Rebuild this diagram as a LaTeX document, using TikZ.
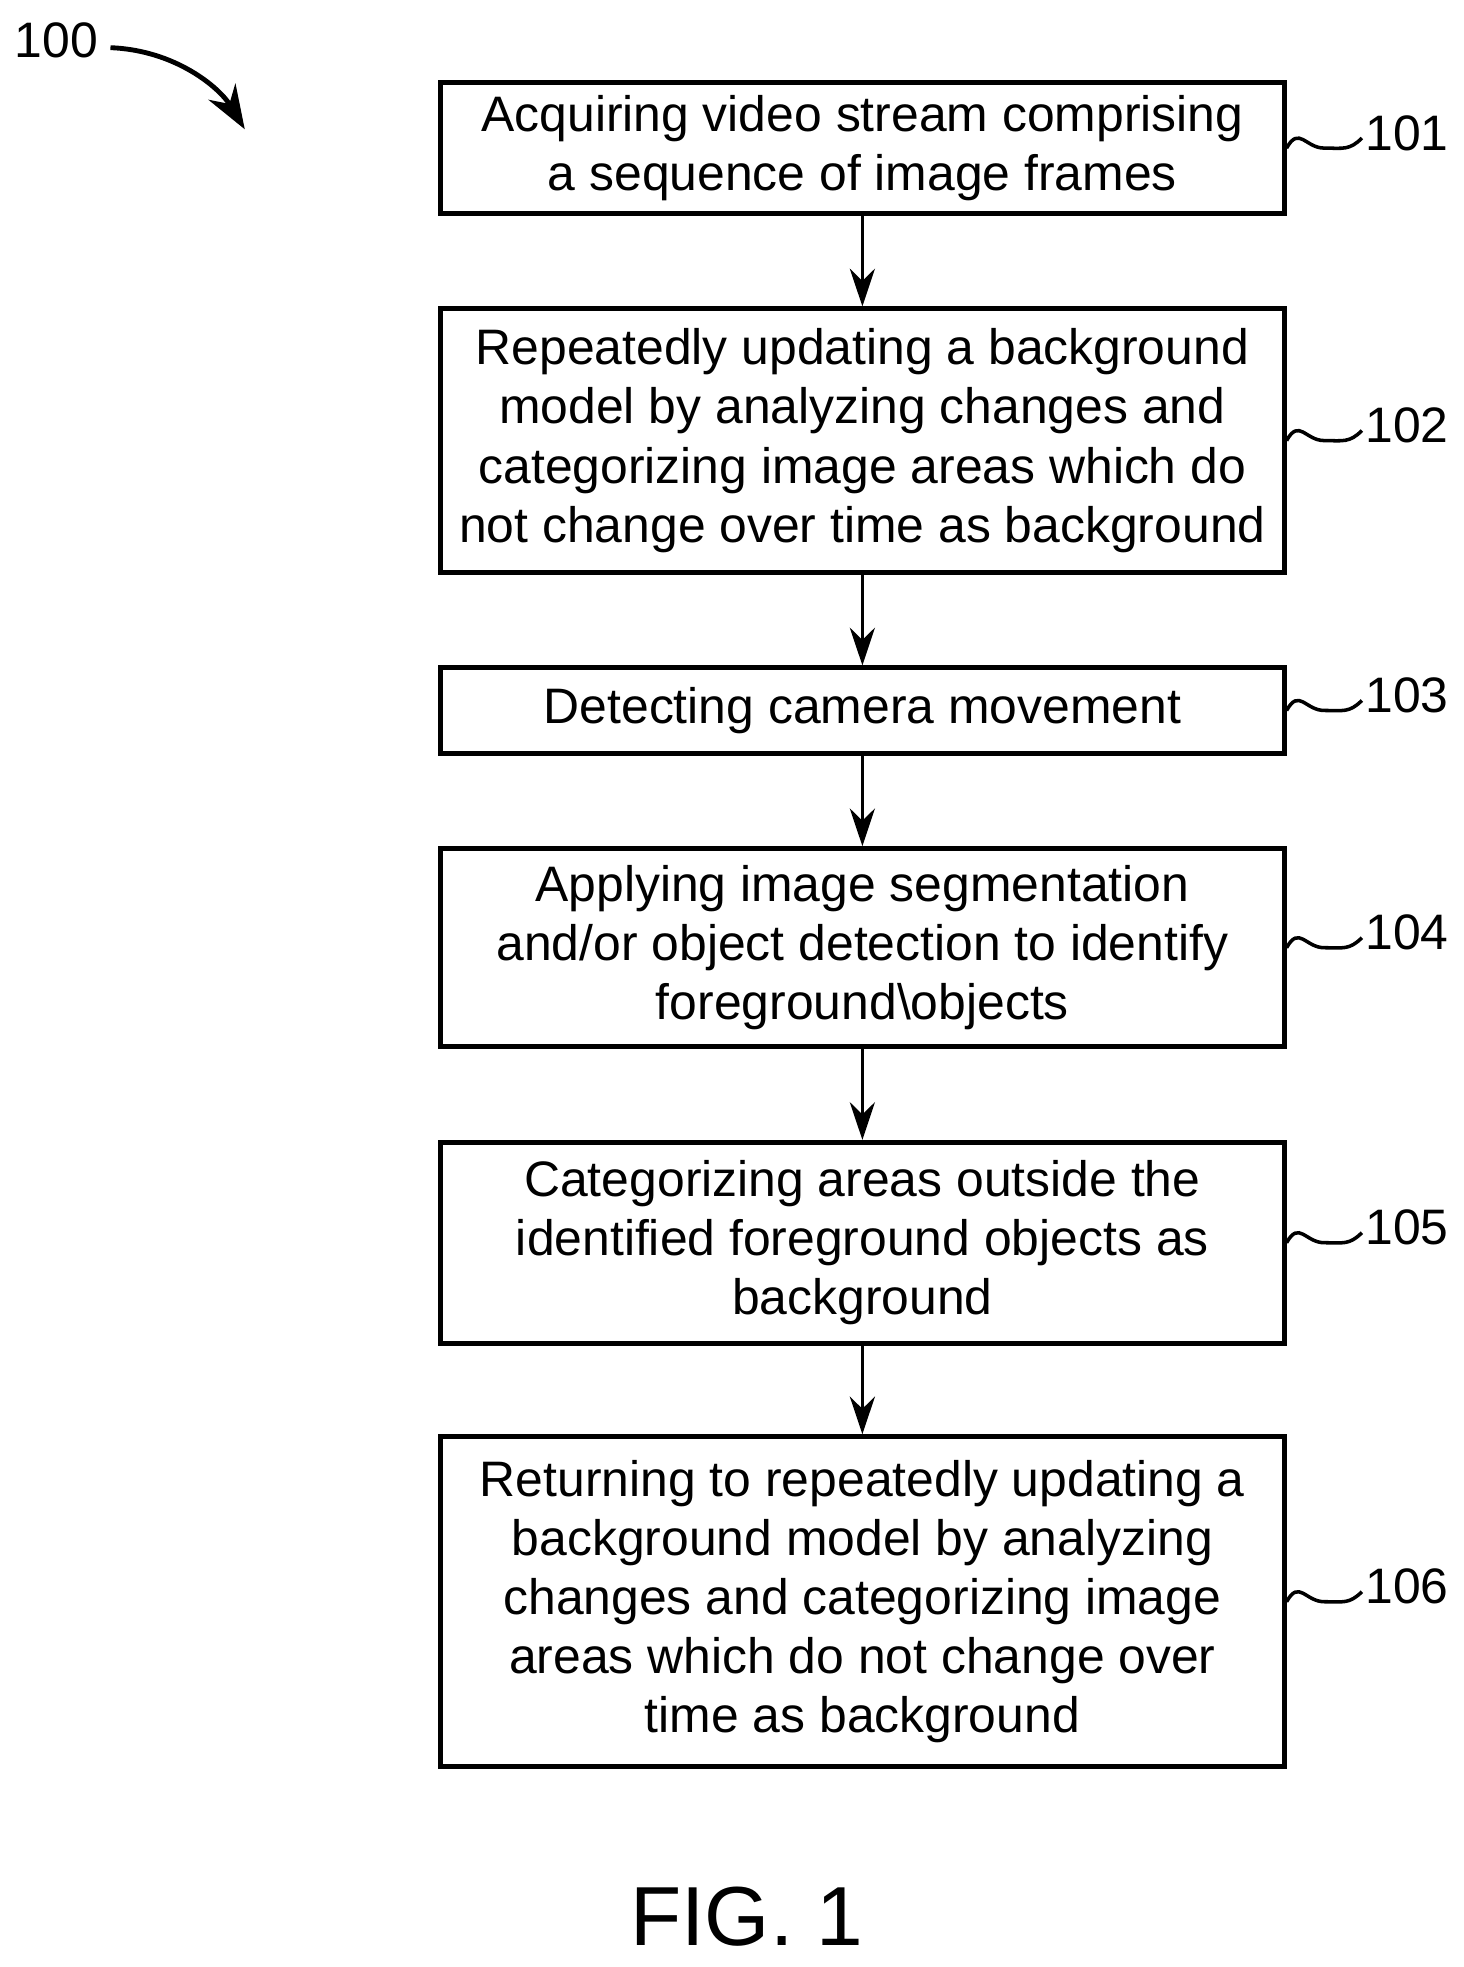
\documentclass[tikz,border=0pt]{standalone}
\usepackage{fontspec}
\setmainfont{Liberation Sans}
\usetikzlibrary{arrows.meta}
\begin{document}
\begin{tikzpicture}[x=0.1mm,y=-0.1mm,
 box/.style={draw,line width=1.1pt,minimum width=67.2mm,align=center,inner sep=0pt,font=\fontsize{11.3}{13.4}\selectfont},
 arr/.style={-{Stealth[length=3mm,width=2mm]},line width=0.8pt},
 lab/.style={font=\fontsize{11.3}{13.4}\selectfont,anchor=west,inner sep=0pt},
 sq/.style={line width=0.8pt}]
\useasboundingbox (0,0) rectangle (1166,1567);
\node[box,minimum height=10.4mm] (b1) at (687,118) {Acquiring video stream comprising\\a sequence of image frames};
\node[box,minimum height=21.0mm] (b2) at (687,351) {Repeatedly updating a background\\model by analyzing changes and\\categorizing image areas which do\\not change over time as background};
\node[box,minimum height=6.8mm] (b3) at (687,566) {Detecting camera movement};
\node[box,minimum height=15.8mm] (b4) at (687,755) {Applying image segmentation\\and/or object detection to identify\\foreground\textbackslash objects};
\node[box,minimum height=16.0mm] (b5) at (687,990) {Categorizing areas outside the\\identified foreground objects as\\background};
\node[box,minimum height=26.3mm] (b6) at (687,1276) {Returning to repeatedly updating a\\background model by analyzing\\changes and categorizing image\\areas which do not change over\\time as background};
\foreach \a/\b in {b1/b2,b2/b3,b3/b4,b4/b5,b5/b6} \draw[arr] (\a) -- (\b);
\foreach \b/\n in {b1/101,b2/102,b3/103,b4/104,b5/105,b6/106}{
 \coordinate (s\n) at ([xshift=0mm]\b.east);
 \draw[sq] (s\n) .. controls +(10,-18) and +(-15,0) .. ++(30,0) .. controls +(15,0) and +(-10,10) .. ++(30,-8);
 \node[lab] (l\n) at ([xshift=6.2mm,yshift=1.2mm]\b.east) {\n};
}
\node[font=\fontsize{11.3}{13.4}\selectfont] (l100) at (45,32) {100};
\coordinate (a100) at (195,103);
\draw[line width=1.1pt,-{Stealth[length=3.5mm,width=2.5mm]}] (88,38) .. controls (140,40) and (175,70) .. (a100);
\node[font=\fontsize{19}{22}\selectfont] (fig) at (595,1527) {FIG. 1};
\end{tikzpicture}
\end{document}
